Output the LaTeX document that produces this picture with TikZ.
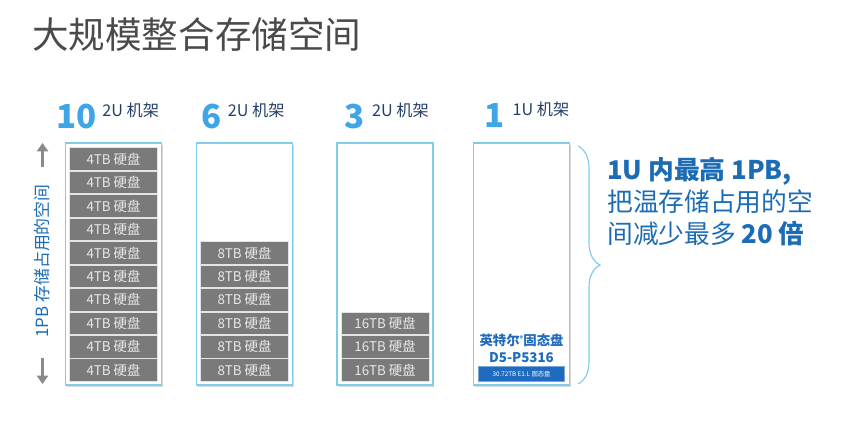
\documentclass[tikz,border=0pt]{standalone}
\usepackage{fontspec}
\setmainfont{Noto Sans CJK SC}
\usetikzlibrary{positioning, shapes, arrows.meta, calc, shadows, decorations.pathreplacing}
\definecolor{myblue}{RGB}{27,108,181}
\definecolor{mylightblue}{RGB}{62,166,230}
\definecolor{mydarkblue}{RGB}{36,62,104}
\definecolor{myframe}{RGB}{130,203,238}
\definecolor{mygrey}{RGB}{122,122,122}
\definecolor{mydrivetext}{RGB}{232,232,232}
\definecolor{mytitle}{RGB}{74,74,74}
\definecolor{myssd}{RGB}{31,107,191}
\definecolor{myarrowgrey}{RGB}{138,138,138}
\definecolor{mybrace}{RGB}{124,201,238}

\begin{document}
\begin{tikzpicture}[
    x = 0.025cm, y = -0.025cm,
    every node/.style = {inner sep=0pt},
    node distance     = 0cm,
         titleNode/.style = {font=\fontsize{26}{30}\selectfont, text=mytitle},
         countNode/.style = {font=\fontsize{23.5}{25}\selectfont\bfseries, text=mylightblue},
         unitNode/.style  = {font=\fontsize{11.5}{13}\selectfont, text=mydarkblue},
         rackNode/.style  = {rectangle, draw=myframe, line width=1.2pt, fill=white, minimum width=2.4cm, minimum height=6.05cm, drop shadow={shadow xshift=1pt, shadow yshift=-1.2pt, opacity=0.3}},
         driveNode/.style = {rectangle, fill=mygrey, draw=white!80!mygrey, line width=0.6pt, minimum width=2.2cm, minimum height=0.565cm, text=mydrivetext, font=\fontsize{9.5}{10}\selectfont},
         ssdNode/.style   = {font=\fontsize{9.5}{11}\selectfont\bfseries, text=myssd},
         ssdBar/.style    = {rectangle, fill=myssd, draw=myssd!60, line width=0.5pt, minimum width=2.15cm, minimum height=0.37cm, text=white, font=\fontsize{4.5}{5}\selectfont},
         spanNode/.style  = {font=\fontsize{12}{13}\selectfont, text=myblue, rotate=90},
         spanArrow/.style = {draw=myarrowgrey, line width=2pt, -{Triangle[width=8pt, length=6pt]}},
         braceLine/.style = {draw=mybrace, line width=0.8pt, decorate, decoration={brace, amplitude=0.55cm}},
         claimNode/.style = {font=\fontsize{18.3}{22.8}\selectfont, text=myblue, align=left}
]

\useasboundingbox (0,0) rectangle (865,443);

\node[titleNode, anchor=west] (title) at (32,34) {大规模整合存储空间};

% racks
\node[rackNode] (rack10) at (113.5,264) {};
\node[rackNode] (rack6)  at (244.5,264) {};
\node[rackNode] (rack3)  at (385,264) {};
\node[rackNode] (rack1)  at (521.5,264) {};

\node[countNode, anchor=base west] (n10) at (56.5,128) {10};
\node[countNode, anchor=base west] (n6)  at (201,128) {6};
\node[countNode, anchor=base west] (n3)  at (344,128) {3};
\node[countNode, anchor=base west] (n1)  at (484.5,127) {1};
\node[unitNode, right=0.12cm of n10.base east, anchor=base west, yshift=0.3cm] (u10) {2U 机架};
\node[unitNode, right=0.15cm of n6.base east, anchor=base west, yshift=0.3cm]  (u6)  {2U 机架};
\node[unitNode, right=0.18cm of n3.base east, anchor=base west, yshift=0.3cm]  (u3)  {2U 机架};
\node[unitNode, right=0.18cm of n1.base east, anchor=base west, yshift=0.3cm]  (u1)  {1U 机架};

% 4TB drives
\node[driveNode, above=0.1cm of rack10.south] (four1) {4TB 硬盘};
\node[driveNode, above=of four1] (four2) {4TB 硬盘};
\node[driveNode, above=of four2] (four3) {4TB 硬盘};
\node[driveNode, above=of four3] (four4) {4TB 硬盘};
\node[driveNode, above=of four4] (four5) {4TB 硬盘};
\node[driveNode, above=of four5] (four6) {4TB 硬盘};
\node[driveNode, above=of four6] (four7) {4TB 硬盘};
\node[driveNode, above=of four7] (four8) {4TB 硬盘};
\node[driveNode, above=of four8] (four9) {4TB 硬盘};
\node[driveNode, above=of four9] (four10) {4TB 硬盘};

% 8TB drives
\node[driveNode, above=0.1cm of rack6.south] (eight1) {8TB 硬盘};
\node[driveNode, above=of eight1] (eight2) {8TB 硬盘};
\node[driveNode, above=of eight2] (eight3) {8TB 硬盘};
\node[driveNode, above=of eight3] (eight4) {8TB 硬盘};
\node[driveNode, above=of eight4] (eight5) {8TB 硬盘};
\node[driveNode, above=of eight5] (eight6) {8TB 硬盘};

% 16TB drives
\node[driveNode, above=0.1cm of rack3.south] (sixteen1) {16TB 硬盘};
\node[driveNode, above=of sixteen1] (sixteen2) {16TB 硬盘};
\node[driveNode, above=of sixteen2] (sixteen3) {16TB 硬盘};

% ssd
\node[ssdBar, above=0.1cm of rack1.south] (ssdbar) {30.72TB E1.L 固态盘};
\node[ssdNode, above=0.075cm of ssdbar] (ssdmodel) {D5-P5316};
\node[ssdNode, above=0.15cm of ssdmodel] (ssdname) {英特尔\raisebox{0.45ex}{\fontsize{5}{5}\selectfont ®}固态盘};

% left span
\node[spanNode] (span) at (42.5,261) {1PB 存储占用的空间};
\coordinate (upTail) at (42.5,167);
\coordinate (upTip)  at (42.5,143);
\coordinate (downTail) at (42.5,358);
\coordinate (downTip)  at (42.5,384);
\draw[spanArrow] (upTail) -- (upTip);
\draw[spanArrow] (downTail) -- (downTip);

% brace and claim
\coordinate (braceTop) at (578,146);
\coordinate (braceBot) at (578,384);
\draw[braceLine] (braceTop) -- (braceBot);

\node[claimNode, anchor=north west] (claim) at (607,157) {\textbf{1U 内最高 1PB,}\\把温存储占用的空\\间减少最多 \textbf{20 倍}};

\end{tikzpicture}
\end{document}
